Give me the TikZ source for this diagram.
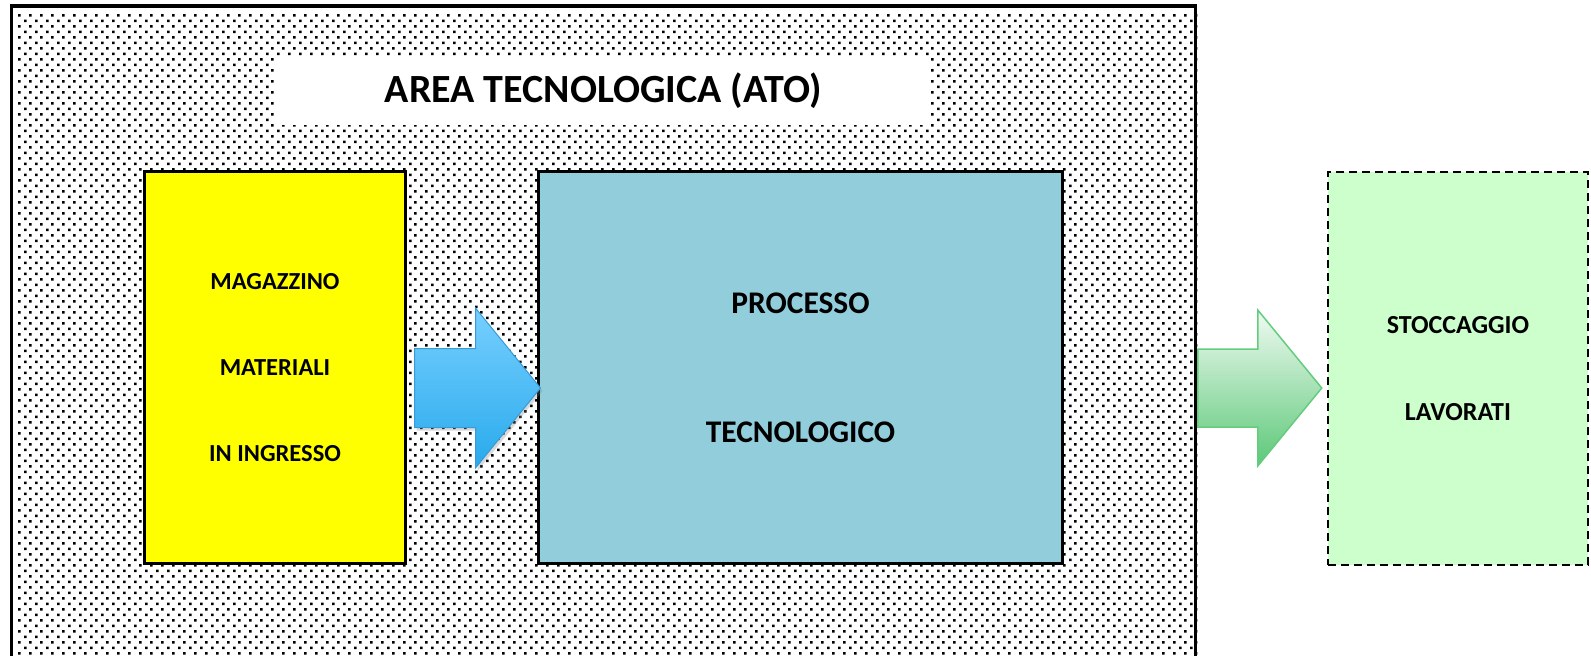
\documentclass[tikz,border=0pt]{standalone}
\usepackage{fontspec}
\setmainfont{Carlito}
\usetikzlibrary{positioning,calc,shadows}

\definecolor{magyellow}{RGB}{255,255,0}
\definecolor{procblue}{RGB}{146,205,220}
\definecolor{stockgreen}{RGB}{204,255,204}
\definecolor{arrowbluetop}{RGB}{120,207,255}
\definecolor{arrowbluebot}{RGB}{40,170,236}
\definecolor{arrowblueline}{RGB}{55,155,215}
\definecolor{arrowgreentop}{RGB}{240,250,242}
\definecolor{arrowgreenbot}{RGB}{92,200,120}
\definecolor{arrowgreenline}{RGB}{100,205,125}

\tikzset{
    x=1pt,
    y=-1pt,
    area/.style = {
        draw,
        shape=rectangle,
        line width=3.5pt,
        minimum width=1184pt,
        minimum height=694pt
    },
    titlebox/.style = {
        fill=white,
        shape=rectangle,
        minimum width=655pt,
        minimum height=69pt,
        font=\fontsize{40}{44}\selectfont\bfseries
    },
    block/.style = {
        draw,
        shape=rectangle,
        line width=3pt,
        minimum height=392pt,
        align=center
    },
    storebox/.style = {
        draw,
        shape=rectangle,
        dashed,
        dash pattern=on 8pt off 5pt,
        line width=2.5pt,
        fill=stockgreen,
        minimum width=260pt,
        minimum height=393pt,
        align=center,
        font=\fontsize{26}{87}\selectfont\bfseries
    },
    bluearrow/.style = {
        draw=arrowblueline,
        line width=1pt,
        top color=arrowbluetop,
        bottom color=arrowbluebot,
        drop shadow={shadow xshift=2pt, shadow yshift=-3pt, opacity=0.3}
    },
    greenarrow/.style = {
        draw=arrowgreenline,
        line width=1.5pt,
        top color=arrowgreentop,
        bottom color=arrowgreenbot
    }
}

\begin{document}
\begin{tikzpicture}
    \useasboundingbox (0,0) rectangle (1591,656);

    \node[area] (ato) at (603.5,353) {};
    % dotted fill of the area
    \begin{scope}
        \clip (ato.north west) rectangle (ato.south east);
        \foreach \j in {0,...,58} {
            \fill \foreach \i in {0,...,107} {
                (18+11*\i,14+11*\j) rectangle ++(2.6,2.6)
                (24+11*\i,19.5+11*\j) rectangle ++(2.6,2.6)
            };
        }
    \end{scope}
    \node[titlebox] (titolo) at (603.5,90.5) {AREA TECNOLOGICA (ATO)};

    \node[block, fill=magyellow, minimum width=261pt, font=\fontsize{24.5}{86}\selectfont\bfseries] (mag) at (275,367.5) {MAGAZZINO\\MATERIALI\\IN INGRESSO};
    \node[block, fill=procblue, minimum width=524pt, font=\fontsize{31.5}{129}\selectfont\bfseries] (proc) at (800.5,367.5) {PROCESSO\\TECNOLOGICO};
    \node[storebox] (stock) at (1458,368.5) {STOCCAGGIO\\LAVORATI};

    % block arrows between the boxes
    \path[bluearrow] let \p1=($(mag.east)+(7.5,20.5)$), \p2=($(proc.west)+(3.5,20.5)$) in
        (\x1,\y1+39.5) -- (\x2-65,\y1+39.5) -- (\x2-65,\y1+80) -- (\x2,\y1)
        -- (\x2-65,\y1-80) -- (\x2-65,\y1-39.5) -- (\x1,\y1-39.5) -- cycle;
    \path[greenarrow] let \p1=($(ato.east)+(0.5,35)$), \p2=($(stock.west)+(-5,19.5)$) in
        (\x1,\y2+39) -- (\x2-64,\y2+39) -- (\x2-64,\y2+78) -- (\x2,\y2)
        -- (\x2-64,\y2-78) -- (\x2-64,\y2-39) -- (\x1,\y2-39) -- cycle;
\end{tikzpicture}
\end{document}
